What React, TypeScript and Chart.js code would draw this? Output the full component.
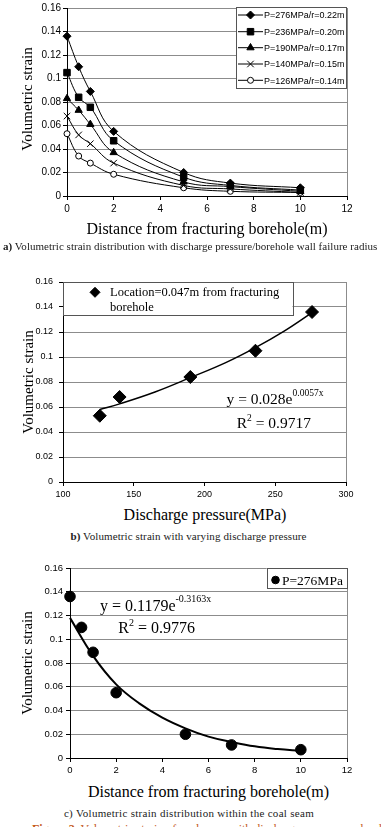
import React, { useEffect, useRef } from 'react';
import { Chart, registerables } from 'chart.js';

Chart.register(...registerables);

// ---------------- data ----------------
const distances = [0, 0.5, 1, 2, 5, 7, 10];
const seriesLabels = [
  'P=276MPa/r=0.22m',
  'P=236MPa/r=0.20m',
  'P=190MPa/r=0.17m',
  'P=140MPa/r=0.15m',
  'P=126MPa/r=0.14m',
];
const strain276 = [0.136, 0.11, 0.089, 0.055, 0.02, 0.011, 0.007];
const strain236 = [0.105, 0.084, 0.0755, 0.047, 0.016, 0.009, 0.005];
const strain190 = [0.083, 0.073, 0.061, 0.037, 0.012, 0.008, 0.004];
const strain140 = [0.068, 0.052, 0.0445, 0.028, 0.009, 0.006, 0.003];
const strain126 = [0.053, 0.034, 0.028, 0.0185, 0.007, 0.004, 0.003];

const pressures = [126, 140, 190, 236, 276];
const strainNearBorehole = [0.053, 0.068, 0.084, 0.105, 0.136];
const trendBPressure = [126, 140, 165, 190, 215, 236, 256, 276];
const trendBStrain = [0.058, 0.0625, 0.072, 0.0835, 0.0955, 0.1075, 0.1205, 0.1355];

const trendCDistance = [0, 1, 2, 3, 4, 5, 6, 7, 8, 9, 10];
const trendCStrain = [0.118, 0.086, 0.062, 0.046, 0.034, 0.025, 0.018, 0.0135, 0.0098, 0.0075, 0.006];

const strainTicks = [0, 0.02, 0.04, 0.06, 0.08, 0.1, 0.12, 0.14, 0.16];
const distanceTicks = [0, 2, 4, 6, 8, 10, 12];
const pressureTicks = [100, 150, 200, 250, 300];

// ---------------- styling ----------------
const SERIF = '"Liberation Serif", "Times New Roman", serif';
const SANS = '"Liberation Sans", Arial, sans-serif';
const GRID = '#8c8c8c';
const X_AXIS_H = 22;

type MarkerStyle = 'rectRot' | 'rect' | 'triangle' | 'crossRot' | 'circle';
type Marker = { style: MarkerStyle; radius: number; fill: string; stroke: string };

const markersA: Marker[] = [
  { style: 'rectRot', radius: 4, fill: '#000', stroke: '#000' },
  { style: 'rect', radius: 4.6, fill: '#000', stroke: '#000' },
  { style: 'triangle', radius: 4.2, fill: '#000', stroke: '#000' },
  { style: 'crossRot', radius: 4.6, fill: '#000', stroke: '#000' },
  { style: 'circle', radius: 3, fill: '#fff', stroke: '#000' },
];

function drawMarker(ctx: CanvasRenderingContext2D, m: Marker, x: number, y: number) {
  const r = m.radius;
  ctx.save();
  ctx.fillStyle = m.fill;
  ctx.strokeStyle = m.stroke;
  ctx.lineWidth = 1;
  ctx.beginPath();
  if (m.style === 'rectRot') {
    ctx.moveTo(x, y - r);
    ctx.lineTo(x + r, y);
    ctx.lineTo(x, y + r);
    ctx.lineTo(x - r, y);
    ctx.closePath();
    ctx.fill();
    ctx.stroke();
  } else if (m.style === 'rect') {
    const s = r * Math.SQRT1_2;
    ctx.rect(x - s, y - s, 2 * s, 2 * s);
    ctx.fill();
    ctx.stroke();
  } else if (m.style === 'triangle') {
    ctx.moveTo(x, y - r);
    ctx.lineTo(x + 0.866 * r, y + 0.5 * r);
    ctx.lineTo(x - 0.866 * r, y + 0.5 * r);
    ctx.closePath();
    ctx.fill();
    ctx.stroke();
  } else if (m.style === 'crossRot') {
    const s = r * Math.SQRT1_2;
    ctx.moveTo(x - s, y - s);
    ctx.lineTo(x + s, y + s);
    ctx.moveTo(x - s, y + s);
    ctx.lineTo(x + s, y - s);
    ctx.stroke();
  } else {
    ctx.arc(x, y, r, 0, Math.PI * 2);
    ctx.fill();
    ctx.stroke();
  }
  ctx.restore();
}

type LegendRow = {
  y: number;
  markerX: number;
  marker: Marker;
  line?: [number, number];
  textX: number;
  lines: { text: string; baseline: number }[];
};
type LegendSpec = {
  box: { x: number; y: number; w: number; h: number };
  font: string;
  rows: LegendRow[];
};

function makeOverlay(spec: LegendSpec, offsetY: number) {
  return {
    id: 'overlay',
    afterDraw(chart: any) {
      const ctx: CanvasRenderingContext2D = chart.ctx;
      const { top, bottom, right } = chart.chartArea;
      ctx.save();
      // plot area right border
      ctx.strokeStyle = GRID;
      ctx.lineWidth = 1;
      ctx.beginPath();
      const rx = Math.round(right) + 0.5;
      ctx.moveTo(rx, top);
      ctx.lineTo(rx, bottom);
      ctx.stroke();
      // legend box
      const b = spec.box;
      ctx.fillStyle = '#fff';
      ctx.fillRect(b.x, b.y - offsetY, b.w, b.h);
      ctx.strokeStyle = '#555';
      ctx.strokeRect(Math.round(b.x) + 0.5, Math.round(b.y - offsetY) + 0.5, Math.round(b.w), Math.round(b.h));
      ctx.font = spec.font;
      ctx.fillStyle = '#000';
      ctx.textBaseline = 'alphabetic';
      ctx.textAlign = 'left';
      for (const row of spec.rows) {
        const y = row.y - offsetY;
        if (row.line) {
          ctx.strokeStyle = '#000';
          ctx.lineWidth = 1;
          ctx.beginPath();
          ctx.moveTo(row.line[0], y);
          ctx.lineTo(row.line[1], y);
          ctx.stroke();
        }
        drawMarker(ctx, row.marker, row.markerX, y);
        ctx.fillStyle = '#000';
        for (const ln of row.lines) {
          ctx.fillText(ln.text, row.textX, ln.baseline - offsetY);
        }
      }
      ctx.restore();
    },
  };
}

function buildScales(
  xMin: number,
  xMax: number,
  xTicks: number[],
  plotLeft: number,
  fontSize: number,
  yPad: number
) {
  const font = { family: SANS, size: fontSize };
  return {
    x: {
      type: 'linear',
      min: xMin,
      max: xMax,
      afterBuildTicks: (s: any) => {
        s.ticks = xTicks.map((v) => ({ value: v }));
      },
      afterFit: (s: any) => {
        s.height = X_AXIS_H;
      },
      ticks: {
        font,
        color: '#000',
        padding: 3,
        maxRotation: 0,
        autoSkip: false,
        callback: (v: any) => String(v),
      },
      grid: { drawOnChartArea: false, drawTicks: true, tickLength: 4, tickColor: '#000', color: '#000' },
      border: { color: '#000', width: 1 },
    },
    y: {
      type: 'linear',
      min: 0,
      max: 0.16,
      afterBuildTicks: (s: any) => {
        s.ticks = strainTicks.map((v) => ({ value: v }));
      },
      afterFit: (s: any) => {
        s.width = plotLeft;
      },
      ticks: { font, color: '#000', padding: yPad, callback: (v: any) => String(v) },
      grid: { color: GRID, tickColor: '#000', tickLength: 4 },
      border: { color: '#000', width: 1 },
    },
  };
}

type ChartSpec = {
  top: number;
  height: number;
  plot: { left: number; top: number; right: number; bottom: number };
  xMin: number;
  xMax: number;
  xTicks: number[];
  fontSize: number;
  yPad: number;
  datasets: any[];
  legend: LegendSpec;
};

const W = 381;

function ChartBox({ spec }: { spec: ChartSpec }) {
  const ref = useRef<HTMLCanvasElement | null>(null);
  useEffect(() => {
    if (!ref.current) return;
    const relTop = spec.plot.top - spec.top;
    const relBottom = spec.plot.bottom - spec.top;
    const chart = new Chart(ref.current, {
      type: 'scatter',
      data: { datasets: spec.datasets },
      options: {
        animation: false,
        responsive: false,
        maintainAspectRatio: false,
        devicePixelRatio: 1,
        events: [],
        layout: {
          padding: {
            left: 0,
            top: relTop,
            right: W - spec.plot.right,
            bottom: spec.height - relBottom - X_AXIS_H,
          },
        },
        plugins: { legend: { display: false }, tooltip: { enabled: false } },
        scales: buildScales(spec.xMin, spec.xMax, spec.xTicks, spec.plot.left, spec.fontSize, spec.yPad) as any,
      },
      plugins: [makeOverlay(spec.legend, spec.top)],
    } as any);
    return () => chart.destroy();
  }, [spec]);
  return (
    <canvas
      ref={ref}
      width={W}
      height={spec.height}
      style={{ position: 'absolute', left: 0, top: spec.top, width: W, height: spec.height }}
    />
  );
}

function pts(xs: number[], ys: number[]) {
  return xs.map((x, i) => ({ x, y: ys[i] }));
}

const seriesA = [strain276, strain236, strain190, strain140, strain126];

const specA: ChartSpec = {
  top: 0,
  height: 224,
  plot: { left: 67, top: 7, right: 347, bottom: 196 },
  xMin: 0,
  xMax: 12,
  xTicks: distanceTicks,
  fontSize: 10,
  yPad: 2,
  datasets: seriesA.map((s, i) => ({
    label: seriesLabels[i],
    data: pts(distances, s),
    showLine: true,
    tension: 0.4,
    borderColor: '#000',
    borderWidth: 1,
    pointStyle: markersA[i].style,
    pointRadius: markersA[i].radius,
    pointBackgroundColor: markersA[i].fill,
    pointBorderColor: '#000',
    pointBorderWidth: 1,
    clip: false,
  })),
  legend: {
    box: { x: 236, y: 7, w: 110, h: 81 },
    font: `9px ${SANS}`,
    rows: [15, 31.7, 47.7, 64, 80.3].map((y, i) => ({
      y,
      markerX: 250.5,
      marker: markersA[i],
      line: [238, 263] as [number, number],
      textX: 264,
      lines: [{ text: seriesLabels[i], baseline: y + 3.3 }],
    })),
  },
};

const specB: ChartSpec = {
  top: 268,
  height: 236,
  plot: { left: 63, top: 282, right: 346, bottom: 482 },
  xMin: 100,
  xMax: 300,
  xTicks: pressureTicks,
  fontSize: 9,
  yPad: 6,
  datasets: [
    {
      label: 'Location=0.047m from fracturing borehole',
      data: pts(pressures, strainNearBorehole),
      showLine: false,
      pointStyle: 'rectRot',
      pointRadius: 6.5,
      pointBackgroundColor: '#000',
      pointBorderColor: '#000',
      clip: false,
    },
    {
      label: 'trend',
      data: pts(trendBPressure, trendBStrain),
      showLine: true,
      tension: 0.4,
      borderColor: '#000',
      borderWidth: 1.5,
      pointRadius: 0,
      clip: false,
    },
  ],
  legend: {
    box: { x: 63, y: 282, w: 229.5, h: 32.5 },
    font: `12.5px ${SERIF}`,
    rows: [
      {
        y: 292.3,
        markerX: 95,
        marker: { style: 'rectRot', radius: 5, fill: '#000', stroke: '#000' },
        textX: 110,
        lines: [
          { text: 'Location=0.047m from fracturing', baseline: 296 },
          { text: 'borehole', baseline: 310.7 },
        ],
      },
    ],
  },
};

const specC: ChartSpec = {
  top: 556,
  height: 226,
  plot: { left: 70, top: 568, right: 347, bottom: 758 },
  xMin: 0,
  xMax: 12,
  xTicks: distanceTicks,
  fontSize: 9.5,
  yPad: 3,
  datasets: [
    {
      label: 'P=276MPa',
      data: pts(distances, strain276),
      showLine: false,
      pointStyle: 'circle',
      pointRadius: 5.3,
      pointBackgroundColor: '#000',
      pointBorderColor: '#000',
      clip: false,
    },
    {
      label: 'trend',
      data: pts(trendCDistance, trendCStrain),
      showLine: true,
      tension: 0.4,
      borderColor: '#000',
      borderWidth: 2,
      pointRadius: 0,
      clip: false,
    },
  ],
  legend: {
    box: { x: 266.7, y: 568, w: 80, h: 20.3 },
    font: `13.5px ${SERIF}`,
    rows: [
      {
        y: 580,
        markerX: 275.5,
        marker: { style: 'circle', radius: 3.8, fill: '#000', stroke: '#000' },
        textX: 282,
        lines: [{ text: 'P=276MPa', baseline: 585 }],
      },
    ],
  },
};

// ---------------- HTML text helpers ----------------
function Txt(props: {
  x: number;
  base: number;
  size: number;
  family?: string;
  anchor?: 'start' | 'middle';
  color?: string;
  spacing?: number;
  children: React.ReactNode;
}) {
  const fam = props.family ?? SERIF;
  const ascentOff = fam === SANS ? 0.8465 : 0.8375;
  return (
    <div
      style={{
        position: 'absolute',
        left: props.x,
        top: props.base - ascentOff * props.size,
        fontFamily: fam,
        fontSize: props.size,
        lineHeight: `${props.size}px`,
        whiteSpace: 'nowrap',
        letterSpacing: props.spacing ? `${props.spacing}px` : undefined,
        color: props.color ?? '#000',
        transform: props.anchor === 'middle' ? 'translateX(-50%)' : undefined,
      }}
    >
      {props.children}
    </div>
  );
}

function YTitle({ cx, cy, size }: { cx: number; cy: number; size: number }) {
  return (
    <div
      style={{
        position: 'absolute',
        left: cx,
        top: cy,
        fontFamily: SERIF,
        fontSize: size,
        lineHeight: `${size}px`,
        whiteSpace: 'nowrap',
        color: '#000',
        transform: 'translate(-50%, -50%) rotate(-90deg)',
      }}
    >
      Volumetric strain
    </div>
  );
}

function Sup({ size, raise, children }: { size: number; raise: number; children: React.ReactNode }) {
  return (
    <span style={{ fontSize: size, lineHeight: 0, position: 'relative', top: -raise }}>{children}</span>
  );
}

export default function App() {
  return (
    <div
      style={{
        position: 'absolute',
        left: 0,
        top: 0,
        width: W,
        height: 827,
        overflow: 'hidden',
        background: '#fff',
      }}
    >
      <ChartBox spec={specA} />
      <ChartBox spec={specB} />
      <ChartBox spec={specC} />

      {/* chart a texts */}
      <YTitle cx={27} cy={99} size={15} />
      <Txt x={207} base={234.5} size={16} anchor="middle">
        Distance from fracturing borehole(m)
      </Txt>
      <Txt x={3} base={250.7} size={11} color="#222" spacing={0.03}>
        <b>a)</b> Volumetric strain distribution with discharge pressure/borehole wall failure radius
      </Txt>

      {/* chart b texts */}
      <YTitle cx={27.5} cy={382} size={15} />
      <Txt x={226.5} base={404} size={15.5}>
        y = 0.028e<Sup size={9.5} raise={8}>0.0057x</Sup>
      </Txt>
      <Txt x={236.7} base={427.7} size={15.5}>
        R<Sup size={9.5} raise={7}>2</Sup> = 0.9717
      </Txt>
      <Txt x={205} base={520} size={16} anchor="middle">
        Discharge pressure(MPa)
      </Txt>
      <Txt x={188.5} base={540.7} size={11} anchor="middle" color="#222" spacing={0.1}>
        <b>b)</b> Volumetric strain with varying discharge pressure
      </Txt>

      {/* chart c texts */}
      <YTitle cx={26.5} cy={663} size={15} />
      <Txt x={100} base={611} size={16}>
        y = 0.1179e<Sup size={10} raise={9}>-0.3163x</Sup>
      </Txt>
      <Txt x={118.3} base={633} size={16}>
        R<Sup size={10} raise={7}>2</Sup> = 0.9776
      </Txt>
      <Txt x={208.5} base={797.3} size={16} anchor="middle">
        Distance from fracturing borehole(m)
      </Txt>
      <Txt x={189} base={817.3} size={11} anchor="middle" color="#222" spacing={0.3}>
        c) Volumetric strain distribution within the coal seam
      </Txt>
      <Txt x={32} base={833} size={12} color="#c4591b">
        <b>Figure 3.</b> Volumetric strain of coal seam with discharge pressure and radius
      </Txt>
    </div>
  );
}
